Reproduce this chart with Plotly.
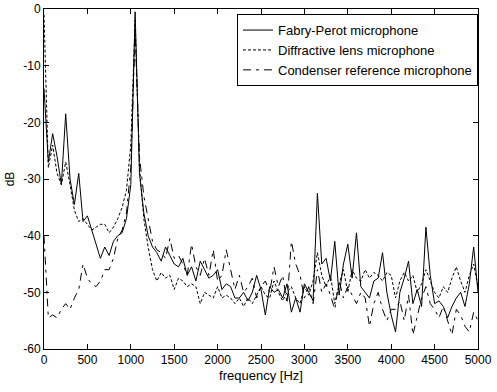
import plotly.graph_objects as go

freq = [i * 50 for i in range(101)]

fabry_perot = [
    -14, -27, -22, -26, -31, -18.5, -30, -34.5, -29, -37.5,
    -36.5, -39, -41.5, -44, -42, -43.5, -41, -40, -39.5, -37,
    -31, -0.5, -29, -36, -40, -42, -43, -44.5, -42, -43.5,
    -45, -45.5, -44, -47, -45.5, -48, -44.5, -46, -47.5, -47,
    -46, -49.5, -48.5, -49, -51, -51, -50, -51.5, -50, -47,
    -49.5, -54, -49, -50, -49.5, -51, -48.5, -53.5, -51, -53.5,
    -48.5, -50, -51.5, -32.5, -45, -44, -48, -41, -50.5, -45,
    -41.5, -47.5, -39.5, -49, -50, -51, -48, -47.5, -43, -50,
    -54, -57, -50, -47.5, -44.5, -52, -49.5, -52.5, -38.5, -47,
    -52, -51.5, -52.5, -54.5, -52.5, -51, -50, -52.5, -48.5, -42,
    -50,
]

diffractive = [
    -1, -28, -24, -29, -31, -27, -31, -35.5, -37.5, -37,
    -38, -39, -38.5, -38, -38, -39.5, -38.5, -37, -35, -32,
    -24, -2, -28, -37, -42, -46, -48, -46.5, -47.5, -47,
    -49.5, -47.5, -48, -49, -48.5, -49, -52, -50, -50.5, -51,
    -49, -51, -50.5, -51, -52, -51, -52.5, -51, -52, -50.5,
    -49, -50.5, -51, -48, -50, -51.5, -50, -49, -51, -52,
    -49, -50.5, -48, -43, -47, -49, -47, -52, -48.5, -46,
    -50, -46, -47.5, -48, -46, -47.5, -46.5, -47, -48, -46.5,
    -47, -51, -48, -46.5, -48, -47, -50, -48.5, -46, -48,
    -50, -51, -49, -50, -47.5, -45.5, -48, -50, -47, -45,
    -49,
]

condenser = [
    -40, -54.5, -54, -54.5, -53, -52, -53, -51, -49.5, -45,
    -47.5, -48.5, -49, -48, -46, -46, -44, -40.5, -39, -36,
    -28, -4, -26, -33, -37, -41, -42.5, -43, -44, -40.5,
    -44, -43.5, -45, -47, -41.5, -45.5, -47, -44, -47, -42.5,
    -48, -47, -42.5, -46, -49.5, -47, -50, -49, -47.5, -51,
    -49, -48, -50, -45.5, -49, -47, -52, -41, -45, -47,
    -51, -49, -52, -46, -50, -48.5, -50.5, -53, -48, -51,
    -49, -50.5, -52, -50, -51, -56, -52, -50, -53, -55,
    -53, -53, -51.5, -55, -50.5, -57.5, -54, -51, -49, -52,
    -53, -54.5, -52.5, -55, -57.5, -53, -54, -56, -57, -53.5,
    -55,
]

series_names = [
    "Fabry-Perot microphone",
    "Diffractive lens microphone",
    "Condenser reference microphone",
]

x_ticks = [0, 500, 1000, 1500, 2000, 2500, 3000, 3500, 4000, 4500, 5000]
y_ticks = [-60, -50, -40, -30, -20, -10, 0]

fig = go.Figure()
fig.add_trace(go.Scatter(x=freq, y=fabry_perot, mode="lines", name=series_names[0],
                         line=dict(color="black", width=1, dash="solid")))
fig.add_trace(go.Scatter(x=freq, y=diffractive, mode="lines", name=series_names[1],
                         line=dict(color="black", width=1, dash="3px,2px")))
fig.add_trace(go.Scatter(x=freq, y=condenser, mode="lines", name=series_names[2],
                         line=dict(color="black", width=1, dash="8px,5px,3px,5px")))

FAM = "Liberation Sans, Arial, sans-serif"
font = dict(family=FAM, size=12, color="black")

fig.update_layout(
    width=497, height=392,
    margin=dict(l=44, r=19, t=9, b=43, autoexpand=False),
    paper_bgcolor="white", plot_bgcolor="white",
    font=font,
    showlegend=True,
    legend=dict(x=1, xanchor="right", y=0.985, yanchor="top",
                bgcolor="white", bordercolor="black", borderwidth=1,
                font=dict(family=FAM, size=13, color="black"),
                tracegroupgap=0, itemwidth=30),
    xaxis=dict(range=[0, 5000], tickvals=x_ticks, ticktext=[str(v) for v in x_ticks],
               ticks="inside", ticklen=5, tickcolor="black", showgrid=False, zeroline=False,
               showline=True, linecolor="black", linewidth=1, mirror="ticks",
               automargin=False,
               title=dict(text="frequency [Hz]", standoff=4, font=dict(family=FAM, size=13))),
    yaxis=dict(range=[-60, 0], tickvals=y_ticks, ticktext=[str(v) for v in y_ticks],
               ticks="inside", ticklen=5, tickcolor="black", showgrid=False, zeroline=False,
               showline=True, linecolor="black", linewidth=1, mirror="ticks",
               automargin=False,
               title=dict(text="dB", standoff=6, font=dict(family=FAM, size=12))),
)

fig.write_html(
    "out.html",
    config={"displayModeBar": False},
    post_script="document.body.style.margin='0';document.body.style.overflow='hidden';",
)
